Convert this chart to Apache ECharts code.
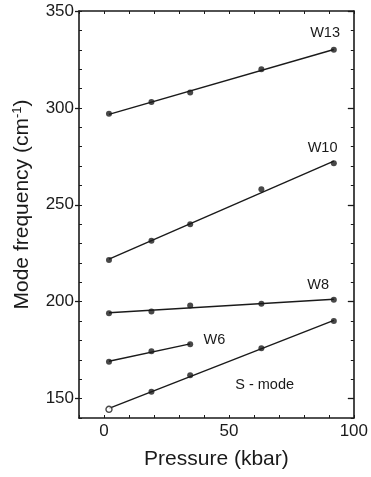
<!DOCTYPE html>
<html>
<head>
<meta charset="utf-8">
<script src="https://cdn.jsdelivr.net/npm/echarts@6/dist/echarts.min.js"></script>
<style>
  html, body { margin: 0; padding: 0; background: #fff; }
  #chart { width: 371px; height: 477px; }
</style>
</head>
<body>
<div id="chart"></div>
<script>
// Pressure (kbar) at which the Raman modes were measured
const pressure = [2, 19, 34.5, 63, 92];
const pressureW6 = [2, 19, 34.5];

// Mode frequencies (cm^-1)
const w13 = [297, 303, 308, 320, 330];
const w10 = [221.5, 231.5, 240, 258, 271.5];
const w8 = [194, 195, 198, 199, 201];
const w6 = [169, 174.5, 178];
const sMode = [144.5, 153.5, 162, 176, 190];

// Tick labels
const xTickLabels = [0, 50, 100];
const yTickLabels = [150, 200, 250, 300, 350];

const FONT = '"Liberation Sans", Arial, Helvetica, sans-serif';
const INK = '#1a1a1a';

function pairs(xs, ys) { return xs.map((x, i) => [x, ys[i]]); }

// Least-squares straight line through a mode, drawn from first to last pressure
function fitLine(xs, ys) {
  const n = xs.length;
  const mx = xs.reduce((a, b) => a + b, 0) / n;
  const my = ys.reduce((a, b) => a + b, 0) / n;
  let sxy = 0, sxx = 0;
  for (let i = 0; i < n; i++) { sxy += (xs[i] - mx) * (ys[i] - my); sxx += (xs[i] - mx) ** 2; }
  const k = sxy / sxx, b = my - k * mx;
  const x0 = Math.min(...xs), x1 = Math.max(...xs);
  return [[x0, k * x0 + b], [x1, k * x1 + b]];
}

function modeLabel(name, coord) {
  return {
    symbol: 'circle', symbolSize: 0, silent: true,
    label: { show: true, formatter: '{b}', position: 'inside', color: INK, fontFamily: FONT, fontSize: 14.5 },
    data: [{ name: name, coord: coord }]
  };
}

const modes = [
  { name: 'W13', xs: pressure, ys: w13, at: [88.5, 338.8] },
  { name: 'W10', xs: pressure, ys: w10, at: [87.5, 279.5] },
  { name: 'W8', xs: pressure, ys: w8, at: [85.7, 208.6] },
  { name: 'W6', xs: pressureW6, ys: w6, at: [44.2, 180.2] },
  { name: 'S - mode', xs: pressure, ys: sMode, at: [64.3, 157.2] }
];

const series = [];
modes.forEach(m => {
  series.push({
    name: m.name + ' fit', type: 'line', data: fitLine(m.xs, m.ys),
    showSymbol: false, lineStyle: { color: INK, width: 1.4 }, silent: true, z: 2,
    markPoint: modeLabel(m.name, m.at)
  });
  const pts = pairs(m.xs, m.ys).map((p, i) => {
    // the ambient-pressure S-mode point is drawn open
    if (m.name === 'S - mode' && i === 0) {
      return { value: p, itemStyle: { color: '#fff', borderColor: INK, borderWidth: 1.4 } };
    }
    return p;
  });
  series.push({
    name: m.name, type: 'scatter', data: pts, symbol: 'circle', symbolSize: 6,
    itemStyle: { color: INK }, z: 3
  });
});

const axisLine = { show: true, onZero: false, lineStyle: { color: INK, width: 1.6 } };
const noLine = { show: false, onZero: false };
const hidden = { show: false };

const option = {
  backgroundColor: '#fff',
  animation: false,
  grid: { left: 79, right: 13, top: 11, bottom: 59, containLabel: false },
  xAxis: [
    {
      type: 'value', position: 'bottom', min: -10, max: 100, interval: 10,
      axisLine: axisLine,
      axisTick: { show: true, inside: true, length: 3, lineStyle: { color: INK, width: 1 } },
      axisLabel: { customValues: xTickLabels, margin: 5, color: INK, fontFamily: FONT, fontSize: 17 },
      splitLine: hidden,
      name: 'Pressure (kbar)', nameLocation: 'middle', nameGap: 31,
      nameTextStyle: { color: INK, fontFamily: FONT, fontSize: 21 }
    },
    {
      type: 'value', position: 'top', min: -10, max: 100, interval: 10,
      axisLine: axisLine,
      axisTick: { show: true, inside: true, length: 3, lineStyle: { color: INK, width: 1 } },
      axisLabel: hidden, splitLine: hidden
    }
  ],
  yAxis: [
    {
      type: 'value', position: 'left', min: 140, max: 350, interval: 10,
      axisLine: axisLine,
      axisTick: { show: true, inside: true, length: 3, lineStyle: { color: INK, width: 1 } },
      axisLabel: { customValues: yTickLabels, margin: 5, color: INK, fontFamily: FONT, fontSize: 17 },
      splitLine: hidden,
      name: 'Mode frequency (cm{sup|-1})', nameLocation: 'middle', nameGap: 45, nameRotate: 90,
      nameTextStyle: {
        color: INK, fontFamily: FONT, fontSize: 21, padding: [0, 0, 0, 20],
        rich: { sup: { fontFamily: FONT, fontSize: 13, color: INK, verticalAlign: 'top', padding: [0, 0, 10, 0] } }
      }
    },
    {
      type: 'value', position: 'right', min: 140, max: 350, interval: 10,
      axisLine: axisLine,
      axisTick: { show: true, inside: true, length: 3, lineStyle: { color: INK, width: 1 } },
      axisLabel: hidden, splitLine: hidden
    },
    {
      // longer outward ticks at the labelled values on the left frame
      type: 'value', position: 'left', offset: 0, min: 140, max: 350,
      axisLine: noLine,
      axisTick: { show: true, inside: false, length: 4, customValues: yTickLabels, lineStyle: { color: INK, width: 1.3 } },
      axisLabel: hidden, splitLine: hidden
    },
    {
      // longer inward ticks at the labelled values on the right frame
      type: 'value', position: 'right', offset: 0, min: 140, max: 350,
      axisLine: noLine,
      axisTick: { show: true, inside: true, length: 6, customValues: yTickLabels, lineStyle: { color: INK, width: 1.3 } },
      axisLabel: hidden, splitLine: hidden
    }
  ],
  series: series
};

const chart = echarts.init(document.getElementById('chart'), null, { renderer: 'canvas' });
chart.setOption(option);
</script>
</body>
</html>
